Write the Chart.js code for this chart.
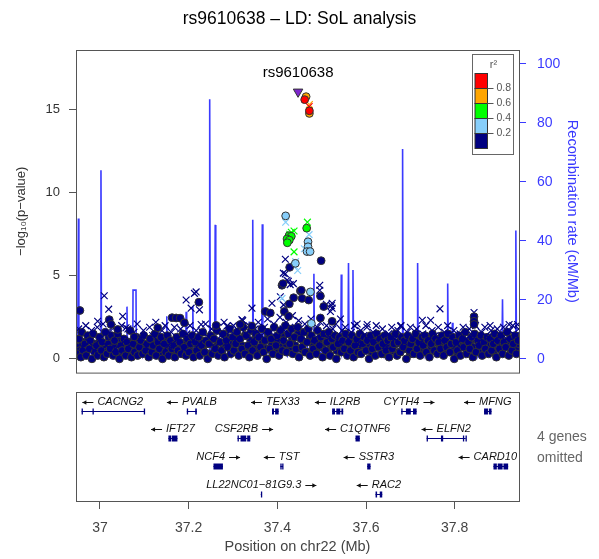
<!DOCTYPE html>
<html>
<head>
<meta charset="utf-8">
<script src="https://cdn.jsdelivr.net/npm/chart.js@4/dist/chart.umd.min.js"></script>
<style>
  body { margin: 0; background: #fff; }
  #wrap { position: relative; width: 599px; height: 559px; }
  canvas { position: absolute; left: 0; }
  #assoc { top: 0; width: 599px; height: 392px; }
  #genes { top: 385px; width: 599px; height: 174px; }
</style>
</head>
<body>
<div id="wrap">
  <canvas id="assoc" width="599" height="392"></canvas>
  <canvas id="genes" width="599" height="174"></canvas>
</div>
<script>
const FONT = '"Liberation Sans", Arial, Helvetica, sans-serif';

// region + axes
const xMin = 36.946, xMax = 37.945;
const xTicks = [37, 37.2, 37.4, 37.6, 37.8];
const pTicks = [0, 5, 10, 15];
const recTicks = [0, 20, 40, 60, 80, 100];

// LD colour bins (r2)
const ldBreaks = [0.2, 0.4, 0.6, 0.8];
const ldColors = ['#000080', '#87CEFA', '#00FF00', '#FFA500', '#FF0000'];
const ldLabels = ['0.2', '0.4', '0.6', '0.8'];

const leadSnp = { name: 'rs9610638', pos: 37.4468, logp: 16.08 };

// SNPs standing out from the background: [position Mb, -log10 p, r2]
const topCircles = [
  [36.9548, 2.91, 0.1], [37.0210, 2.36, 0.1], [37.0249, 2.07, 0.1], [37.0400, 1.77, 0.1],
  [37.0775, 1.32, 0.1], [37.1304, 1.87, 0.1], [37.1627, 2.48, 0.1], [37.1718, 2.46, 0.1],
  [37.1808, 2.45, 0.1], [37.1905, 2.17, 0.1], [37.2230, 3.41, 0.1], [37.2621, 2.01, 0.1],
  [37.3164, 2.07, 0.1], [37.3428, 1.97, 0.1], [37.3729, 2.85, 0.1], [37.3842, 2.76, 0.1],
  [37.4105, 4.43, 0.1], [37.4129, 4.53, 0.1], [37.4158, 2.85, 0.1], [37.4255, 2.56, 0.1],
  [37.4271, 3.31, 0.1], [37.4278, 5.51, 0.1], [37.4368, 3.68, 0.1], [37.4520, 4.09, 0.1],
  [37.4542, 4.13, 0.1], [37.4558, 3.64, 0.1], [37.4707, 3.54, 0.1], [37.4972, 3.78, 0.1],
  [37.4972, 2.46, 0.1], [37.4988, 5.91, 0.1], [37.5046, 3.15, 0.1], [37.5236, 2.26, 0.1],
  [37.8436, 2.54, 0.1], [37.8436, 2.26, 0.1], [37.8436, 2.07, 0.1],
  [37.4188, 8.61, 0.3], [37.4692, 7.05, 0.3], [37.4692, 6.75, 0.3], [37.4670, 6.46, 0.3],
  [37.4739, 6.46, 0.3], [37.4407, 5.75, 0.3], [37.4746, 4.03, 0.3], [37.4768, 2.13, 0.3],
  [37.4662, 7.87, 0.5], [37.4264, 7.42, 0.5], [37.4316, 7.38, 0.5], [37.4219, 7.22, 0.5],
  [37.4271, 7.15, 0.5], [37.4226, 6.99, 0.5],
  [37.4649, 15.79, 0.7], [37.4723, 14.78, 0.7],
  [37.4617, 15.61, 0.9], [37.4723, 14.94, 0.9]
];
const topCrosses = [
  [36.9948, 2.26, 0.1], [37.0097, 3.80, 0.1], [37.0197, 2.99, 0.1], [37.0513, 2.56, 0.1],
  [37.0588, 1.87, 0.1], [37.1944, 3.54, 0.1], [37.2056, 3.05, 0.1], [37.2131, 3.94, 0.1],
  [37.2169, 4.03, 0.1], [37.2244, 2.95, 0.1], [37.2282, 2.07, 0.1], [37.2863, 1.97, 0.1],
  [37.3202, 2.36, 0.1], [37.3428, 3.05, 0.1], [37.3880, 3.35, 0.1], [37.4068, 3.74, 0.1],
  [37.4136, 5.16, 0.1], [37.4140, 3.25, 0.1], [37.4181, 6.00, 0.1], [37.4180, 5.12, 0.1],
  [37.4219, 4.73, 0.1], [37.4249, 4.67, 0.1], [37.4290, 4.47, 0.1], [37.4362, 4.53, 0.1],
  [37.4957, 4.43, 0.1], [37.4957, 4.13, 0.1], [37.5107, 3.29, 0.1], [37.5198, 2.85, 0.1],
  [37.5220, 3.21, 0.1], [37.5236, 3.35, 0.1], [37.5236, 3.05, 0.1], [37.5424, 2.40, 0.1],
  [37.5800, 2.10, 0.1], [37.6027, 2.07, 0.1], [37.6780, 1.97, 0.1], [37.7270, 2.32, 0.1],
  [37.7458, 2.32, 0.1], [37.7668, 3.01, 0.1], [37.8436, 2.79, 0.1], [37.8436, 2.46, 0.1],
  [37.8798, 2.01, 0.1], [37.9227, 2.07, 0.1], [37.9417, 2.07, 0.1],
  [37.4188, 8.23, 0.3], [37.4716, 7.48, 0.3], [37.4610, 6.63, 0.3], [37.4413, 5.85, 0.3],
  [37.4459, 5.32, 0.3], [37.4384, 5.61, 0.3], [37.4106, 3.64, 0.3],
  [37.4678, 8.23, 0.5], [37.4316, 7.62, 0.5], [37.4377, 7.70, 0.5], [37.4282, 7.50, 0.5],
  [37.4377, 6.44, 0.5],
  [37.4723, 15.32, 0.7], [37.4718, 15.20, 0.9]
];

// background SNPs (r2 < 0.2): [position Mb, -log10 p]
const bgCircles = [
  [36.950,0.3],[36.953,1.2],[36.957,0.1],[36.959,1.6],[36.962,0.5],[36.966,0.9],[36.969,0.2],[36.972,1.4],
  [36.976,0.6],[36.978,1.1],[36.982,0.0],[36.985,1.5],[36.989,0.4],[36.992,0.8],[36.995,0.2],[36.999,1.3],
  [37.003,0.5],[37.005,1.0],[37.009,0.1],[37.012,1.6],[37.016,0.3],[37.019,0.9],[37.023,0.6],[37.026,1.4],
  [37.030,0.2],[37.033,1.1],[37.036,0.4],[37.040,1.5],[37.044,0.0],[37.047,0.8],[37.050,0.5],[37.054,1.2],
  [37.058,0.2],[37.061,1.0],[37.064,0.6],[37.068,1.7],[37.071,0.1],[37.075,0.9],[37.078,0.4],[37.082,1.3],
  [37.085,0.2],[37.089,0.7],[37.092,1.1],[37.096,0.3],[37.099,1.4],[37.103,0.5],[37.106,0.9],[37.110,0.1],
  [37.113,1.2],[37.117,0.4],[37.120,0.8],[37.124,1.5],[37.127,0.2],[37.131,1.0],[37.134,0.6],[37.138,1.3],
  [37.141,0.0],[37.145,0.9],[37.148,0.4],[37.152,1.4],[37.155,0.2],[37.159,1.1],[37.162,0.6],[37.166,0.8],
  [37.169,0.1],[37.173,1.3],[37.176,0.5],[37.180,1.0],[37.183,0.3],[37.187,1.5],[37.190,0.7],[37.194,0.2],
  [37.197,1.2],[37.201,0.4],[37.204,0.9],[37.208,1.4],[37.211,0.1],[37.215,1.0],[37.218,0.5],[37.222,1.3],
  [37.225,0.2],[37.229,0.8],[37.232,1.6],[37.236,0.4],[37.239,1.1],[37.243,0.0],[37.246,0.9],[37.250,1.4],
  [37.253,0.3],[37.257,1.2],[37.260,0.6],[37.264,1.7],[37.267,0.2],[37.271,1.0],[37.274,0.5],[37.278,1.5],
  [37.281,0.1],[37.285,1.1],[37.288,0.7],[37.292,1.8],[37.295,0.3],[37.299,1.3],[37.302,0.5],[37.306,0.9],
  [37.309,1.6],[37.313,0.2],[37.316,1.2],[37.320,0.6],[37.323,1.9],[37.327,0.3],[37.330,1.4],[37.334,0.8],
  [37.337,0.1],[37.341,1.7],[37.344,0.5],[37.348,1.0],[37.351,1.5],[37.355,0.2],[37.358,1.3],[37.362,0.7],
  [37.365,1.8],[37.369,0.4],[37.372,1.1],[37.376,0.0],[37.379,1.6],[37.383,0.6],[37.386,1.2],[37.390,0.3],
  [37.393,1.9],[37.397,0.8],[37.400,1.4],[37.404,0.2],[37.407,1.7],[37.411,0.5],[37.414,1.1],[37.418,2.0],
  [37.421,0.4],[37.425,1.5],[37.428,0.9],[37.432,1.8],[37.435,0.3],[37.439,1.3],[37.442,0.6],[37.446,1.9],
  [37.449,0.1],[37.453,1.2],[37.456,0.7],[37.460,1.6],[37.463,0.4],[37.467,1.0],[37.470,1.8],[37.474,0.2],
  [37.477,1.4],[37.481,0.6],[37.484,1.1],[37.488,0.3],[37.491,1.7],[37.495,0.8],[37.498,1.3],[37.502,0.1],
  [37.505,1.5],[37.509,0.5],[37.512,1.0],[37.516,1.6],[37.519,0.2],[37.523,1.2],[37.526,0.7],[37.530,1.4],
  [37.533,0.0],[37.537,0.9],[37.540,1.3],[37.544,0.4],[37.547,1.1],[37.551,0.6],[37.554,1.5],[37.558,0.2],
  [37.561,1.0],[37.565,0.5],[37.568,1.4],[37.572,0.1],[37.575,0.8],[37.579,1.2],[37.582,0.4],[37.586,1.5],
  [37.589,0.3],[37.593,0.9],[37.596,1.3],[37.600,0.5],[37.603,1.1],[37.607,0.0],[37.610,1.4],[37.614,0.6],
  [37.617,1.0],[37.621,0.2],[37.624,1.5],[37.628,0.7],[37.631,1.2],[37.635,0.3],[37.638,0.9],[37.642,1.4],
  [37.645,0.5],[37.649,1.1],[37.652,0.1],[37.656,1.3],[37.659,0.6],[37.663,0.9],[37.666,1.5],[37.670,0.2],
  [37.673,1.0],[37.677,0.4],[37.680,1.3],[37.684,0.7],[37.687,1.1],[37.691,0.0],[37.694,1.4],[37.698,0.5],
  [37.701,0.9],[37.705,1.2],[37.708,0.3],[37.712,1.5],[37.715,0.6],[37.719,1.0],[37.722,0.2],[37.726,1.3],
  [37.729,0.8],[37.733,1.4],[37.736,0.4],[37.740,1.1],[37.743,0.1],[37.747,0.9],[37.750,1.5],[37.754,0.5],
  [37.757,1.2],[37.761,0.3],[37.764,1.0],[37.768,0.6],[37.771,1.4],[37.775,0.2],[37.778,1.1],[37.782,0.7],
  [37.785,1.5],[37.789,0.4],[37.792,0.9],[37.796,1.3],[37.799,0.0],[37.803,1.0],[37.806,0.5],[37.810,1.4],
  [37.813,0.2],[37.817,1.2],[37.820,0.7],[37.824,1.6],[37.827,0.3],[37.831,1.0],[37.834,0.6],[37.838,1.3],
  [37.841,0.1],[37.845,1.5],[37.848,0.4],[37.852,1.1],[37.855,0.8],[37.859,1.4],[37.862,0.2],[37.866,1.0],
  [37.869,0.6],[37.873,1.3],[37.876,0.3],[37.880,1.2],[37.883,0.5],[37.887,0.9],[37.890,1.5],[37.894,0.1],
  [37.897,1.1],[37.901,0.6],[37.904,1.4],[37.908,0.3],[37.911,1.0],[37.915,0.7],[37.918,1.6],[37.922,0.2],
  [37.925,1.2],[37.929,0.5],[37.932,0.9],[37.936,1.4],[37.939,0.3],[37.943,1.1]
];
const bgCirclesMid = [
  [36.948,0.7],[36.955,0.5],[36.961,1.0],[36.967,0.4],[36.974,1.2],[36.980,0.6],[36.987,0.9],[36.993,0.3],
  [37.000,1.1],[37.007,0.7],[37.013,0.4],[37.020,1.3],[37.027,0.6],[37.034,0.9],[37.041,0.3],[37.047,1.2],
  [37.054,0.7],[37.060,0.5],[37.067,1.0],[37.073,0.3],[37.080,0.8],[37.087,1.1],[37.093,0.5],[37.100,0.9],
  [37.107,0.4],[37.114,1.2],[37.121,0.6],[37.127,1.0],[37.134,0.3],[37.140,0.8],[37.147,1.1],[37.154,0.5],
  [37.160,0.9],[37.167,0.4],[37.174,1.2],[37.180,0.7],[37.187,0.3],[37.194,1.0],[37.200,0.6],[37.207,1.3],
  [37.213,0.4],[37.220,0.8],[37.227,1.1],[37.233,0.5],[37.240,0.9],[37.247,0.3],[37.254,1.2],[37.260,0.7],
  [37.267,1.0],[37.274,0.4],[37.280,0.8],[37.287,1.3],[37.294,0.6],[37.300,1.0],[37.307,0.4],[37.314,1.2],
  [37.320,0.8],[37.327,1.4],[37.334,0.5],[37.340,1.1],[37.347,0.7],[37.354,1.3],[37.360,0.4],[37.367,1.0],
  [37.374,0.6],[37.380,1.4],[37.387,0.8],[37.394,0.5],[37.400,1.1],[37.407,0.7],[37.414,1.4],[37.420,0.9],
  [37.427,0.5],[37.434,1.2],[37.440,0.8],[37.447,1.5],[37.454,0.6],[37.460,1.0],[37.467,0.4],[37.474,1.3],
  [37.480,0.9],[37.487,0.5],[37.494,1.1],[37.500,0.7],[37.507,1.3],[37.514,0.4],[37.520,0.9],[37.527,1.1],
  [37.534,0.5],[37.540,0.8],[37.547,1.2],[37.554,0.4],[37.560,0.9],[37.567,0.6],[37.574,1.1],[37.580,0.3],
  [37.587,0.8],[37.594,1.2],[37.600,0.6],[37.607,0.9],[37.614,0.4],[37.620,1.1],[37.627,0.7],[37.634,1.0],
  [37.640,0.3],[37.647,0.8],[37.654,1.2],[37.660,0.5],[37.667,0.9],[37.674,0.4],[37.680,1.1],[37.687,0.6],
  [37.694,1.0],[37.700,0.3],[37.707,0.8],[37.714,1.2],[37.720,0.6],[37.727,0.9],[37.734,0.4],[37.740,1.2],
  [37.747,0.7],[37.754,1.0],[37.760,0.5],[37.767,0.8],[37.774,1.2],[37.780,0.4],[37.787,0.9],[37.794,0.6],
  [37.800,1.1],[37.807,0.3],[37.814,0.8],[37.820,1.1],[37.827,0.5],[37.834,0.9],[37.840,0.7],[37.847,1.2],
  [37.854,0.4],[37.860,0.8],[37.867,1.1],[37.874,0.6],[37.880,0.9],[37.887,0.4],[37.894,1.2],[37.900,0.7],
  [37.907,0.5],[37.914,1.0],[37.920,0.8],[37.927,0.4],[37.934,1.1],[37.940,0.6],[37.945,0.9]
];
const bgCrosses = [
  [36.952,1.8],[36.961,0.7],[36.968,2.0],[36.975,1.0],[36.981,1.7],[36.987,0.5],[36.994,1.9],[37.001,1.2],
  [37.007,2.1],[37.014,0.8],[37.021,1.6],[37.028,1.9],[37.035,0.6],[37.042,1.5],[37.049,2.0],[37.056,1.1],
  [37.063,1.8],[37.070,0.9],[37.077,1.6],[37.084,2.1],[37.091,1.3],[37.098,1.7],[37.105,0.7],[37.112,1.9],
  [37.119,1.4],[37.126,2.2],[37.133,1.0],[37.140,1.7],[37.147,2.0],[37.154,0.8],[37.161,1.6],[37.168,1.9],
  [37.175,1.2],[37.182,1.8],[37.189,0.6],[37.196,1.5],[37.203,2.0],[37.210,1.1],[37.217,1.7],[37.224,0.9],
  [37.231,1.6],[37.238,2.1],[37.245,1.3],[37.252,1.8],[37.259,0.7],[37.266,1.9],[37.273,1.4],[37.280,2.2],
  [37.287,1.0],[37.294,1.7],[37.301,2.0],[37.308,1.2],[37.315,1.9],[37.322,2.3],[37.329,1.5],[37.336,2.0],
  [37.343,1.1],[37.350,1.8],[37.357,2.2],[37.364,1.4],[37.371,1.9],[37.378,2.4],[37.385,1.6],[37.392,2.1],
  [37.399,1.3],[37.406,2.5],[37.413,1.8],[37.420,2.2],[37.427,1.5],[37.434,2.6],[37.441,1.9],[37.448,2.3],
  [37.455,1.4],[37.462,2.1],[37.469,1.7],[37.476,2.4],[37.483,1.2],[37.490,1.9],[37.497,2.2],[37.504,1.5],
  [37.511,2.0],[37.518,1.3],[37.525,1.8],[37.532,2.1],[37.539,1.0],[37.546,1.7],[37.553,1.9],[37.560,1.2],
  [37.567,1.6],[37.574,2.0],[37.581,0.9],[37.588,1.7],[37.595,1.4],[37.602,1.9],[37.609,1.1],[37.616,1.6],
  [37.623,2.0],[37.630,1.3],[37.637,1.8],[37.644,0.8],[37.651,1.5],[37.658,1.9],[37.665,1.2],[37.672,1.7],
  [37.679,2.0],[37.686,1.0],[37.693,1.6],[37.700,1.9],[37.707,1.3],[37.714,1.8],[37.721,0.9],[37.728,1.5],
  [37.735,2.0],[37.742,1.2],[37.749,1.7],[37.756,1.4],[37.763,1.9],[37.770,1.1],[37.777,1.6],[37.784,2.0],
  [37.791,1.3],[37.798,1.7],[37.805,0.9],[37.812,1.5],[37.819,1.9],[37.826,1.2],[37.833,1.8],[37.840,1.4],
  [37.847,2.0],[37.854,1.0],[37.861,1.6],[37.868,1.9],[37.875,1.3],[37.882,1.7],[37.889,1.1],[37.896,1.8],
  [37.903,1.4],[37.910,1.9],[37.917,1.2],[37.924,1.7],[37.931,2.0],[37.938,1.4],[37.944,1.8]
];

// recombination rate: [position Mb, cM/Mb]
const recomb = [
  [36.9465,2],[36.9500,4],[36.9514,47.6],[36.9525,3],[36.958,6],[36.964,1],[36.970,5],[36.977,2],
  [36.984,7],[36.990,1],[36.996,4],[37.0010,3],[37.0023,63.9],[37.0035,2],[37.010,5],[37.017,1],
  [37.024,6],[37.031,2],[37.038,4],[37.045,8],[37.052,1],[37.0595,3],[37.0610,17.7],[37.0622,2],
  [37.068,5],[37.0740,2],[37.0746,23.3],[37.0813,23.3],[37.0820,3],[37.089,6],[37.096,1],[37.103,5],
  [37.110,2],[37.117,7],[37.124,1],[37.131,4],[37.138,2],[37.144,6],[37.1495,2],[37.1507,14.4],
  [37.1520,3],[37.158,5],[37.165,1],[37.172,6],[37.179,3],[37.186,5],[37.1930,2],[37.1944,16],
  [37.1956,4],[37.2020,2],[37.2083,3],[37.2095,17.7],[37.2108,1],[37.218,5],[37.225,2],[37.232,6],
  [37.239,1],[37.2462,3],[37.2475,88.0],[37.2488,2],[37.2587,2],[37.2599,45.4],[37.2612,4],[37.268,1],
  [37.275,6],[37.282,2],[37.289,5],[37.296,1],[37.303,7],[37.310,2],[37.317,4],[37.324,1],
  [37.330,5],[37.3355,2],[37.3367,12.7],[37.3380,3],[37.3433,2],[37.3446,47.1],[37.3459,3],[37.352,5],
  [37.359,1],[37.3648,2],[37.3661,45.6],[37.3674,3],[37.374,6],[37.381,2],[37.388,4],[37.395,1],
  [37.402,5],[37.409,2],[37.416,7],[37.423,1],[37.430,3],[37.437,5],[37.444,1],[37.451,4],
  [37.458,2],[37.465,6],[37.472,1],[37.4812,3],[37.4825,28.8],[37.4838,2],[37.490,5],[37.497,1],
  [37.504,6],[37.511,2],[37.518,4],[37.525,1],[37.532,5],[37.538,2],[37.5430,3],[37.5442,28.6],
  [37.5455,2],[37.552,6],[37.5592,2],[37.5605,32.5],[37.5618,3],[37.5693,2],[37.5706,30.1],[37.5719,4],
  [37.578,1],[37.585,6],[37.592,2],[37.599,5],[37.606,1],[37.613,4],[37.620,7],[37.627,2],
  [37.634,5],[37.641,1],[37.648,6],[37.655,3],[37.662,5],[37.669,1],[37.676,4],[37.6812,2],
  [37.6825,71.1],[37.6838,3],[37.690,5],[37.697,1],[37.704,6],[37.710,2],[37.7151,3],[37.7164,32.5],
  [37.7177,2],[37.724,5],[37.731,1],[37.738,6],[37.745,2],[37.752,4],[37.759,1],[37.766,7],
  [37.773,2],[37.7829,3],[37.7842,25.5],[37.7855,2],[37.7935,3],[37.7948,12.2],[37.7961,1],[37.803,5],
  [37.810,2],[37.817,6],[37.824,1],[37.831,4],[37.838,2],[37.845,7],[37.852,1],[37.859,5],
  [37.866,2],[37.873,6],[37.880,1],[37.887,4],[37.894,2],[37.901,5],[37.9065,2],[37.9078,20.2],
  [37.9091,3],[37.916,6],[37.923,1],[37.930,4],[37.9366,2],[37.9379,43.5],[37.9392,3],[37.9455,2]
];

// genes
const geneNames = ['CACNG2', 'PVALB', 'TEX33', 'IL2RB', 'CYTH4', 'MFNG', 'IFT27', 'CSF2RB',
  'C1QTNF6', 'ELFN2', 'NCF4', 'TST', 'SSTR3', 'CARD10', 'LL22NC01\u221281G9.3', 'RAC2'];
const geneStrand = ['-', '-', '-', '-', '+', '-', '-', '+', '-', '-', '+', '-', '-', '-', '+', '-'];
const geneRow = [0, 0, 0, 0, 0, 0, 1, 1, 1, 1, 2, 2, 2, 2, 3, 3];
const geneStart = [36.9586, 37.1959, 37.3880, 37.5236, 37.6795, 37.8662, 37.1544, 37.3103,
  37.5763, 37.7367, 37.2560, 37.4068, 37.6027, 37.8874, 37.3627, 37.6215];
const geneEnd = [37.0994, 37.2185, 37.4030, 37.5485, 37.7141, 37.8830, 37.1747, 37.3390,
  37.5860, 37.8249, 37.2773, 37.4129, 37.6102, 37.9205, 37.3650, 37.6366];
const geneExons = [
  [[36.9586, 36.9602], [36.9832, 36.9837], [37.0989, 37.0994]],
  [[37.1959, 37.1964], [37.2148, 37.2185]],
  [[37.3880, 37.3925], [37.3950, 37.4030]],
  [[37.5236, 37.5300], [37.5330, 37.5420], [37.5445, 37.5485]],
  [[37.6795, 37.6801], [37.6900, 37.7010], [37.7060, 37.7141]],
  [[37.8662, 37.8750], [37.8770, 37.8830]],
  [[37.1544, 37.1610], [37.1625, 37.1747]],
  [[37.3103, 37.3112], [37.3170, 37.3300], [37.3320, 37.3390]],
  [[37.5763, 37.5860]],
  [[37.7367, 37.7372], [37.7690, 37.7740], [37.8185, 37.8190], [37.8244, 37.8249]],
  [[37.2560, 37.2773]],
  [[37.4068, 37.4074], [37.4110, 37.4129]],
  [[37.6027, 37.6102]],
  [[37.8874, 37.8950], [37.8970, 37.9080], [37.9100, 37.9205]],
  [[37.3630, 37.3647]],
  [[37.6215, 37.6250], [37.6310, 37.6366]]
];
const omittedGenes = 4;

const NAVY = '#000080';
const BLUE = '#3a3aff';

function ldColor(r2) {
  let i = 0;
  while (i < ldBreaks.length && r2 >= ldBreaks[i]) i++;
  return ldColors[i];
}

Chart.defaults.font.family = FONT;
Chart.defaults.animation = false;

const boxPlugin = {
  id: 'box',
  afterDraw(chart) {
    const { ctx, chartArea: a } = chart;
    ctx.save();
    ctx.strokeStyle = '#555';
    ctx.lineWidth = 1;
    ctx.strokeRect(a.left + 0.5, a.top + 0.5, a.right - a.left, a.bottom - a.top);
    ctx.restore();
  }
};

const ldLegend = {
  id: 'ldLegend',
  afterDraw(chart) {
    const { ctx, chartArea: a } = chart;
    const x0 = a.right - 46.5, y0 = a.top + 4.5, w = 41, h = 100;
    ctx.save();
    ctx.fillStyle = '#fff';
    ctx.fillRect(x0, y0, w, h);
    ctx.strokeStyle = '#666';
    ctx.lineWidth = 1;
    ctx.strokeRect(x0, y0, w, h);
    ctx.fillStyle = '#555';
    ctx.font = '11px ' + FONT;
    ctx.textAlign = 'center';
    ctx.textBaseline = 'middle';
    ctx.fillText('r\u00B2', x0 + 21, y0 + 10);
    const bx = x0 + 2.5, bw = 12.5, bh = 15, by = y0 + 19;
    for (let i = 0; i < ldColors.length; i++) {
      const c = ldColors[ldColors.length - 1 - i];
      ctx.fillStyle = c;
      ctx.fillRect(bx, by + i * bh, bw, bh);
      ctx.strokeStyle = '#333';
      ctx.strokeRect(bx, by + i * bh, bw, bh);
    }
    ctx.font = '10.5px ' + FONT;
    ctx.textAlign = 'left';
    ctx.fillStyle = '#555';
    ldLabels.forEach((lab, k) => {
      const yy = by + (ldLabels.length - k) * bh;
      ctx.strokeStyle = '#555';
      ctx.beginPath();
      ctx.moveTo(bx + bw, yy);
      ctx.lineTo(bx + bw + 6, yy);
      ctx.stroke();
      ctx.fillText(lab, bx + bw + 9, yy);
    });
    ctx.restore();
  }
};

const leadLabel = {
  id: 'leadLabel',
  afterDatasetsDraw(chart) {
    const { ctx, scales } = chart;
    const px = scales.x.getPixelForValue(leadSnp.pos);
    const py = scales.y.getPixelForValue(leadSnp.logp);
    ctx.save();
    ctx.fillStyle = '#000';
    ctx.font = '15px ' + FONT;
    ctx.textAlign = 'center';
    ctx.textBaseline = 'middle';
    ctx.fillText(leadSnp.name, px, py - 18.5);
    ctx.restore();
  }
};

const toPts = rows => rows.map(r => ({ x: r[0], y: r[1], r2: r[2] }));
const byLd = rows => rows.slice().sort((a, b) => a[2] - b[2]);
const bgPts = rows => rows.map(r => ({ x: r[0], y: r[1] }));

new Chart(document.getElementById('assoc'), {
  type: 'scatter',
  data: {
    datasets: [
      {
        label: 'lead',
        data: [{ x: leadSnp.pos, y: leadSnp.logp }],
        pointStyle: 'triangle', rotation: 180, radius: 5.5,
        backgroundColor: '#7D26CD', borderColor: '#333', borderWidth: 1,
        order: 1
      },
      {
        label: 'top circles',
        data: toPts(byLd(topCircles)),
        pointStyle: 'circle', radius: 3.9,
        backgroundColor: ctx => ldColor(ctx.raw ? ctx.raw.r2 : 0),
        borderColor: '#333', borderWidth: 1,
        order: 2
      },
      {
        label: 'top crosses',
        data: toPts(byLd(topCrosses)),
        pointStyle: 'crossRot', radius: 4.8,
        borderColor: ctx => ldColor(ctx.raw ? ctx.raw.r2 : 0), borderWidth: 1.2,
        order: 3
      },
      {
        label: 'bg crosses',
        data: bgPts(bgCrosses),
        pointStyle: 'crossRot', radius: 4.8,
        borderColor: NAVY, borderWidth: 1.2,
        order: 6
      },
      {
        label: 'bg circles',
        data: bgPts(bgCircles),
        pointStyle: 'circle', radius: 3.9,
        backgroundColor: NAVY, borderColor: '#333', borderWidth: 1,
        order: 7
      },
      {
        label: 'bg circles mid',
        data: bgPts(bgCirclesMid),
        pointStyle: 'circle', radius: 3.9,
        backgroundColor: NAVY, borderColor: '#333', borderWidth: 1,
        order: 8
      },
      {
        type: 'line',
        label: 'recombination',
        yAxisID: 'y2',
        data: bgPts(recomb),
        borderColor: BLUE, borderWidth: 1.6, pointRadius: 0, tension: 0, fill: false,
        order: 10
      }
    ]
  },
  options: {
    responsive: false,
    events: [],
    layout: { padding: { left: 0, right: 0, top: 0, bottom: 13 } },
    plugins: {
      legend: { display: false },
      tooltip: { enabled: false },
      title: {
        display: true,
        text: 'rs9610638 \u2013 LD: SoL analysis',
        color: '#000',
        font: { size: 17.5, weight: 'normal', family: FONT },
        padding: { top: 9, bottom: 20 }
      }
    },
    scales: {
      x: { type: 'linear', min: xMin, max: xMax, display: false },
      y: {
        type: 'linear', position: 'left', min: -0.83, max: 18.6,
        afterBuildTicks: s => { s.ticks = pTicks.map(v => ({ value: v })); },
        afterFit: s => { s.width = 76; },
        grid: { drawOnChartArea: false, drawTicks: true, tickLength: 7, color: '#555' },
        border: { display: false },
        ticks: { color: '#333', font: { size: 13 }, padding: 9 },
        title: {
          display: true, text: '\u2212log\u2081\u2080(p\u2212value)', color: '#333',
          font: { size: 13 }, padding: { top: 14, bottom: 0 }
        }
      },
      y2: {
        type: 'linear', position: 'right', min: -4.65, max: 104.65,
        afterBuildTicks: s => { s.ticks = recTicks.map(v => ({ value: v })); },
        afterFit: s => { s.width = 80; },
        grid: { drawOnChartArea: false, drawTicks: true, tickLength: 7, color: BLUE },
        border: { display: false },
        ticks: { color: BLUE, font: { size: 14 }, padding: 11 },
        title: {
          display: true, text: 'Recombination rate (cM/Mb)', color: BLUE,
          font: { size: 14.5 }, padding: { top: 18, bottom: 0 }
        }
      }
    }
  },
  plugins: [boxPlugin, leadLabel, ldLegend]
});

const genePlugin = {
  id: 'genePanel',
  afterDatasetsDraw(chart) {
    const { ctx, chartArea: a, scales: { x, y } } = chart;
    ctx.save();
    ctx.font = 'italic 11px ' + FONT;
    ctx.textBaseline = 'middle';
    geneNames.forEach((name, i) => {
      const yb = Math.round(y.getPixelForValue(geneRow[i] + 0.68)) + 0.5;
      const x1 = x.getPixelForValue(geneStart[i]);
      const x2 = x.getPixelForValue(geneEnd[i]);
      ctx.strokeStyle = NAVY;
      ctx.fillStyle = NAVY;
      ctx.lineWidth = 1;
      ctx.beginPath();
      ctx.moveTo(x1, yb);
      ctx.lineTo(x2, yb);
      ctx.stroke();
      geneExons[i].forEach(([s, e]) => {
        const ex1 = x.getPixelForValue(s);
        const ex2 = x.getPixelForValue(e);
        ctx.fillRect(ex1, yb - 3, Math.max(ex2 - ex1, 1.3), 6);
      });
      // label with strand arrow
      const tw = ctx.measureText(name).width;
      const arrowLen = 11, gap = 4;
      const total = tw + arrowLen + gap;
      let cx = (x1 + x2) / 2;
      cx = Math.min(cx, a.right - 2 - total / 2);
      cx = Math.max(cx, a.left + 2 + total / 2);
      const ly = yb - 9.5;
      const left = cx - total / 2;
      let tx, ax1, ax2;
      if (geneStrand[i] === '-') {
        ax1 = left; ax2 = left + arrowLen; tx = ax2 + gap;
      } else {
        tx = left; ax1 = left + tw + gap; ax2 = ax1 + arrowLen;
      }
      ctx.fillStyle = '#111';
      ctx.textAlign = 'left';
      ctx.fillText(name, tx, ly);
      ctx.strokeStyle = '#111';
      ctx.beginPath();
      ctx.moveTo(ax1, ly + 0.5);
      ctx.lineTo(ax2, ly + 0.5);
      ctx.stroke();
      ctx.beginPath();
      if (geneStrand[i] === '-') {
        ctx.moveTo(ax1, ly + 0.5); ctx.lineTo(ax1 + 4, ly - 1.7); ctx.lineTo(ax1 + 4, ly + 2.7);
      } else {
        ctx.moveTo(ax2, ly + 0.5); ctx.lineTo(ax2 - 4, ly - 1.7); ctx.lineTo(ax2 - 4, ly + 2.7);
      }
      ctx.closePath();
      ctx.fillStyle = '#111';
      ctx.fill();
    });
    ctx.fillStyle = '#666';
    ctx.font = '14px ' + FONT;
    ctx.textAlign = 'left';
    ctx.fillText(omittedGenes + ' genes', a.right + 18, a.top + 45);
    ctx.fillText('omitted', a.right + 18, a.top + 66);
    ctx.restore();
  }
};

new Chart(document.getElementById('genes'), {
  type: 'scatter',
  data: { datasets: [] },
  options: {
    responsive: false,
    events: [],
    layout: { padding: { left: 76, right: 80, top: 7, bottom: 0 } },
    plugins: { legend: { display: false }, tooltip: { enabled: false } },
    scales: {
      x: {
        type: 'linear', position: 'bottom', min: xMin, max: xMax,
        afterBuildTicks: s => { s.ticks = xTicks.map(v => ({ value: v })); },
        afterFit: s => { s.height = 58; },
        grid: { drawOnChartArea: false, drawTicks: true, tickLength: 8, color: '#555' },
        border: { display: false },
        ticks: {
          color: '#444', font: { size: 14 }, padding: 11,
          callback: v => String(Math.round(v * 10) / 10)
        },
        title: {
          display: true, text: 'Position on chr22 (Mb)', color: '#444',
          font: { size: 14.5 }, padding: { top: 0, bottom: 3 }
        }
      },
      y: { type: 'linear', min: 0, max: 3.95, reverse: true, display: false }
    }
  },
  plugins: [boxPlugin, genePlugin]
});
</script>
</body>
</html>
